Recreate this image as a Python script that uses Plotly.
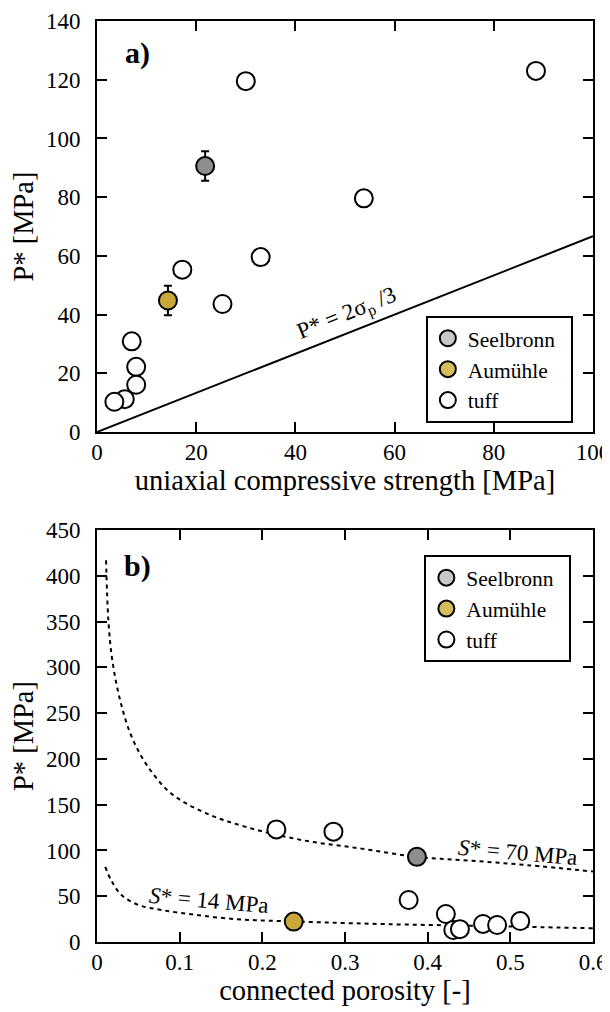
import plotly.graph_objects as go

# ── panel a: P* vs UCS ──
ucs_seel = [21.8]
pstar_seel_a = [90.6]
err_seel = [5]
ucs_aum = [14.3]
pstar_aum_a = [44.8]
err_aum = [5]
ucs_tuff = [30.0, 88.5, 53.8, 33.0, 17.2, 25.3, 7.0, 7.9, 7.9, 5.6, 3.5]
pstar_tuff_a = [119.5, 123.0, 79.6, 59.6, 55.3, 43.6, 30.9, 22.2, 16.1, 11.2, 10.3]
line_x = [0, 100]
line_y = [0, 66.7]

# ── panel b: P* vs connected porosity ──
por_seel = [0.387]
pstar_seel_b = [93.0]
por_aum = [0.238]
pstar_aum_b = [22.3]
por_tuff = [0.217, 0.286, 0.377, 0.422, 0.431, 0.439, 0.467, 0.484, 0.512]
pstar_tuff_b = [123.0, 120.5, 45.9, 30.6, 13.1, 14.0, 19.7, 18.6, 22.9]

# model curves
por_s70 = [0.011, 0.0137, 0.0185, 0.028, 0.042, 0.062, 0.09, 0.131, 0.179, 0.25, 0.32, 0.387, 0.45, 0.52, 0.6]
pstar_s70 = [417, 352, 308, 264, 224, 191, 162, 141, 126, 111, 102, 93, 89, 84, 77]
por_s14 = [0.01, 0.018, 0.03, 0.05, 0.078, 0.12, 0.167, 0.207, 0.272, 0.35, 0.45, 0.52, 0.6]
pstar_s14 = [82, 66, 51, 40.5, 35, 29.5, 25, 23.3, 21.5, 19.5, 17.8, 16.5, 15]

legend_names = ["Seelbronn", "Aumühle", "tuff"]
legend_colors = ["#c8c8c8", "#d6bd5c", "white"]

FONT = "Liberation Serif"
GRAY = "#8e8e8e"
GOLD = "#c9a83a"

fig = go.Figure()

marker = lambda c: dict(size=18, color=c, line=dict(color="black", width=2))

# panel a
fig.add_trace(go.Scatter(x=line_x, y=line_y, mode="lines",
                         line=dict(color="black", width=2),
                         showlegend=False, xaxis="x", yaxis="y"))
fig.add_trace(go.Scatter(x=ucs_tuff, y=pstar_tuff_a, mode="markers", marker=marker("white"),
                         showlegend=False, xaxis="x", yaxis="y"))
fig.add_trace(go.Scatter(x=ucs_seel, y=pstar_seel_a, mode="markers", marker=marker(GRAY),
                         error_y=dict(type="data", array=err_seel, color="black", thickness=2, width=4),
                         showlegend=False, xaxis="x", yaxis="y"))
fig.add_trace(go.Scatter(x=ucs_aum, y=pstar_aum_a, mode="markers", marker=marker(GOLD),
                         error_y=dict(type="data", array=err_aum, color="black", thickness=2, width=4),
                         showlegend=False, xaxis="x", yaxis="y"))

# panel b
for px_, py_ in [(por_s70, pstar_s70), (por_s14, pstar_s14)]:
    fig.add_trace(go.Scatter(x=px_, y=py_, mode="lines", line_shape="spline",
                             line=dict(color="black", width=2, dash="4px,4px"),
                             showlegend=False, xaxis="x2", yaxis="y2"))
fig.add_trace(go.Scatter(x=por_tuff, y=pstar_tuff_b, mode="markers", marker=marker("white"),
                         showlegend=False, xaxis="x2", yaxis="y2"))
fig.add_trace(go.Scatter(x=por_seel, y=pstar_seel_b, mode="markers", marker=marker(GRAY),
                         showlegend=False, xaxis="x2", yaxis="y2"))
fig.add_trace(go.Scatter(x=por_aum, y=pstar_aum_b, mode="markers", marker=marker(GOLD),
                         showlegend=False, xaxis="x2", yaxis="y2"))

# legend-only entries (lighter swatches, as in the original)
for lg, xa, ya in [("legend", "x", "y"), ("legend2", "x2", "y2")]:
    for name, col in zip(legend_names, legend_colors):
        fig.add_trace(go.Scatter(x=[None], y=[None], mode="markers", name=name + "&nbsp;&nbsp;",
                                 marker=dict(size=16, color=col, line=dict(color="black", width=2)),
                                 legend=lg, xaxis=xa, yaxis=ya))

axis_common = dict(
    showline=True, linecolor="black", linewidth=2, mirror="allticks",
    ticks="inside", ticklen=10, tickwidth=2, tickcolor="black",
    showgrid=False, zeroline=False, automargin=False, ticklabeloverflow="allow",
    tickfont=dict(family=FONT, size=23, color="black"),
    title_font=dict(family=FONT, size=28.5, color="black"),
)

legend_common = dict(xanchor="left", yanchor="top",
                     bordercolor="black", borderwidth=2, bgcolor="white",
                     font=dict(family=FONT, size=21.5, color="black"),
                     itemwidth=30, tracegroupgap=0)

# page body adds an 8px offset, so the figure is sized a bit smaller
fig.update_layout(
    width=602, height=1004,
    margin=dict(l=89, r=17, t=13, b=70),
    plot_bgcolor="white", paper_bgcolor="white",
    font=dict(family=FONT, color="black"),
    xaxis=dict(axis_common, domain=[0, 1], range=[0, 100], dtick=20, anchor="y",
               title=dict(text="uniaxial compressive strength [MPa]", standoff=6),
               ticklabelstandoff=-2),
    yaxis=dict(axis_common, domain=[0.5537, 1], range=[0, 140], dtick=20, anchor="x",
               title=dict(text="P* [MPa]", standoff=10), ticklabelstandoff=10),
    xaxis2=dict(axis_common, domain=[0, 1], range=[0, 0.6], dtick=0.1, anchor="y2",
                title=dict(text="connected porosity [-]", standoff=6),
                ticklabelstandoff=-2),
    yaxis2=dict(axis_common, domain=[0, 0.4473], range=[0, 450], dtick=50, anchor="x2",
                title=dict(text="P* [MPa]", standoff=10), ticklabelstandoff=10),
    legend=dict(legend_common, x=0.663, y=0.680),
    legend2=dict(legend_common, x=0.660, y=0.420),
)

# panel labels and curve labels
fig.add_annotation(x=0.081, y=0.921, xref="x domain", yref="y domain", text="<b>a)</b>",
                   xanchor="center", yanchor="middle",
                   showarrow=False, font=dict(family=FONT, size=30))
fig.add_annotation(x=0.081, y=0.913, xref="x2 domain", yref="y2 domain", text="<b>b)</b>",
                   xanchor="center", yanchor="middle",
                   showarrow=False, font=dict(family=FONT, size=30))
fig.add_annotation(x=50.5, y=40, xref="x", yref="y", text="P* = 2σ<sub>p</sub> /3",
                   xanchor="center", yanchor="middle",
                   textangle=-22, showarrow=False, font=dict(family=FONT, size=23))
fig.add_annotation(x=0.509, y=98, xref="x2", yref="y2", text="<i>S</i>* = 70 MPa",
                   xanchor="center", yanchor="middle",
                   textangle=5, showarrow=False, font=dict(family=FONT, size=23))
fig.add_annotation(x=0.135, y=45, xref="x2", yref="y2", text="<i>S</i>* = 14 MPa",
                   xanchor="center", yanchor="middle",
                   textangle=5, showarrow=False, font=dict(family=FONT, size=23))

fig.write_html("out.html")
